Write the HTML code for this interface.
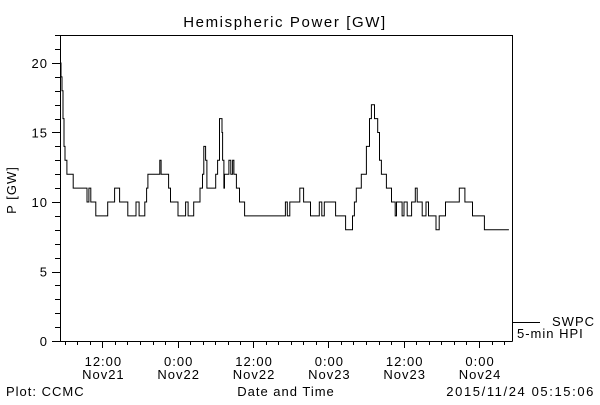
<!DOCTYPE html>
<html><head><meta charset="utf-8"><style>
body{margin:0;background:#fff}
svg text{font-family:"Liberation Sans",sans-serif;font-size:13px;letter-spacing:1px;fill:#000}
</style></head><body>
<svg id="c" width="600" height="400" xmlns="http://www.w3.org/2000/svg">
<rect width="600" height="400" fill="#fff"/>
<text x="285" y="27" text-anchor="middle" style="font-size:15px;letter-spacing:1.6px">Hemispheric Power [GW]</text>
<text transform="translate(16,190) rotate(-90)" text-anchor="middle">P [GW]</text>
<text x="286" y="396" text-anchor="middle">Date and Time</text>
<text x="6" y="396">Plot: CCMC</text>
<text x="595" y="396" text-anchor="end" style="letter-spacing:1.6px">2015/11/24 05:15:06</text>
<g id="axes"></g>
<path id="series" fill="none" stroke="#000" stroke-width="1"/>
<line x1="513" y1="322.5" x2="540" y2="322.5" stroke="#000"/>
<text x="552" y="326">SWPC</text>
<text x="517" y="338">5-min HPI</text>
</svg>
<script>
const times=[0,0.16,0.32,0.48,0.64,0.8,1.1,2.1,4.3,4.6,4.9,5.7,7.6,8.7,9.5,10.8,12.1,12.6,13.5,13.8,14.0,15.9,16.1,17.3,17.6,18.8,20.0,20.4,21.3,22.3,22.7,22.9,23.2,23.4,24.8,25.1,25.4,25.8,25.9,26.1,26.2,26.9,27.2,27.5,27.7,28.1,28.6,29.4,35.9,36.2,36.6,38.2,38.8,39.9,41.3,41.7,42.1,43.9,45.5,46.6,46.9,47.2,48.0,48.8,49.3,49.6,50.1,50.6,50.9,51.2,52.0,52.8,53.4,53.6,54.5,54.8,55.3,56.0,56.6,56.9,57.7,58.3,58.7,59.9,60.4,61.4,63.6,64.5,65.7,67.6];
const values=[20,19,18,16,14,13,12,11,10,11,10,9,10,11,10,9,10,9,10,11,12,13,12,11,10,9,10,9,10,11,12,14,13,11,12,13,16,15,13,11,12,13,12,13,12,11,10,9,10,9,10,11,10,9,10,9,10,9,8,9,10,11,12,14,16,17,16,15,13,12,11,10,9,10,9,10,9,10,11,10,9,10,9,8,9,10,11,10,9,8];
const endTime=71.5;
const yTicks=[0,5,10,15,20];
const xTickHours=[6.75,18.75,30.75,42.75,54.75,66.75];
const xTickLabels=[["12:00","Nov21"],["0:00","Nov22"],["12:00","Nov22"],["0:00","Nov23"],["12:00","Nov23"],["0:00","Nov24"]];
const X0=60,X1=512,Y0=341,YT=35,HMAX=72,VMAX=(341-35)/13.9;
function xs(h){return X0+h*(X1-X0)/HMAX;}
function ys(v){return Y0-v*(Y0-YT)/VMAX;}
const NS="http://www.w3.org/2000/svg";
const ax=document.getElementById('axes');
function ln(x1,y1,x2,y2,name){const l=document.createElementNS(NS,'line');l.setAttribute('x1',x1);l.setAttribute('y1',y1);l.setAttribute('x2',x2);l.setAttribute('y2',y2);l.setAttribute('stroke','#000');


ax.appendChild(l);}
function tx(x,y,s,anchor,name){const t=document.createElementNS(NS,'text');t.setAttribute('x',x);t.setAttribute('y',y);t.setAttribute('text-anchor',anchor);t.textContent=s;


ax.appendChild(t);}
ln(X0+.5,YT,X0+.5,Y0+.5,'y-axis');
ln(X0,YT+.5,X1,YT+.5,'top-axis');
ln(X1+.5,YT,X1+.5,Y0+.5,'right-axis');
ln(X0,Y0+.5,X1+.5,Y0+.5,'x-axis');
for(let v=0;v<=22;v++){const y=Math.round(ys(v))+.5;ln(v%5===0?52:55,y,X0,y,'y-tick');}
yTicks.forEach(v=>tx(48,ys(v)+5,String(v),'end','y-tick-label'));
for(let h=0.75;h<HMAX;h+=2){const x=Math.round(xs(h))+.5;const major=xTickHours.some(m=>Math.abs(m-h)<0.01);ln(x,Y0,x,Y0+(major?7:4),'x-tick');}
xTickHours.forEach((h,i)=>{tx(xs(h)+1,366,xTickLabels[i][0],'middle','x-tick-label');tx(xs(h)+1,379,xTickLabels[i][1],'middle','x-tick-date');});
let d='M'+xs(times[0]).toFixed(1)+' '+ys(values[0]).toFixed(1);
for(let i=1;i<times.length;i++){d+=' H'+xs(times[i]).toFixed(1)+' V'+ys(values[i]).toFixed(1);}
d+=' H'+xs(endTime).toFixed(1);
document.getElementById('series').setAttribute('d',d);
</script>
</body></html>
